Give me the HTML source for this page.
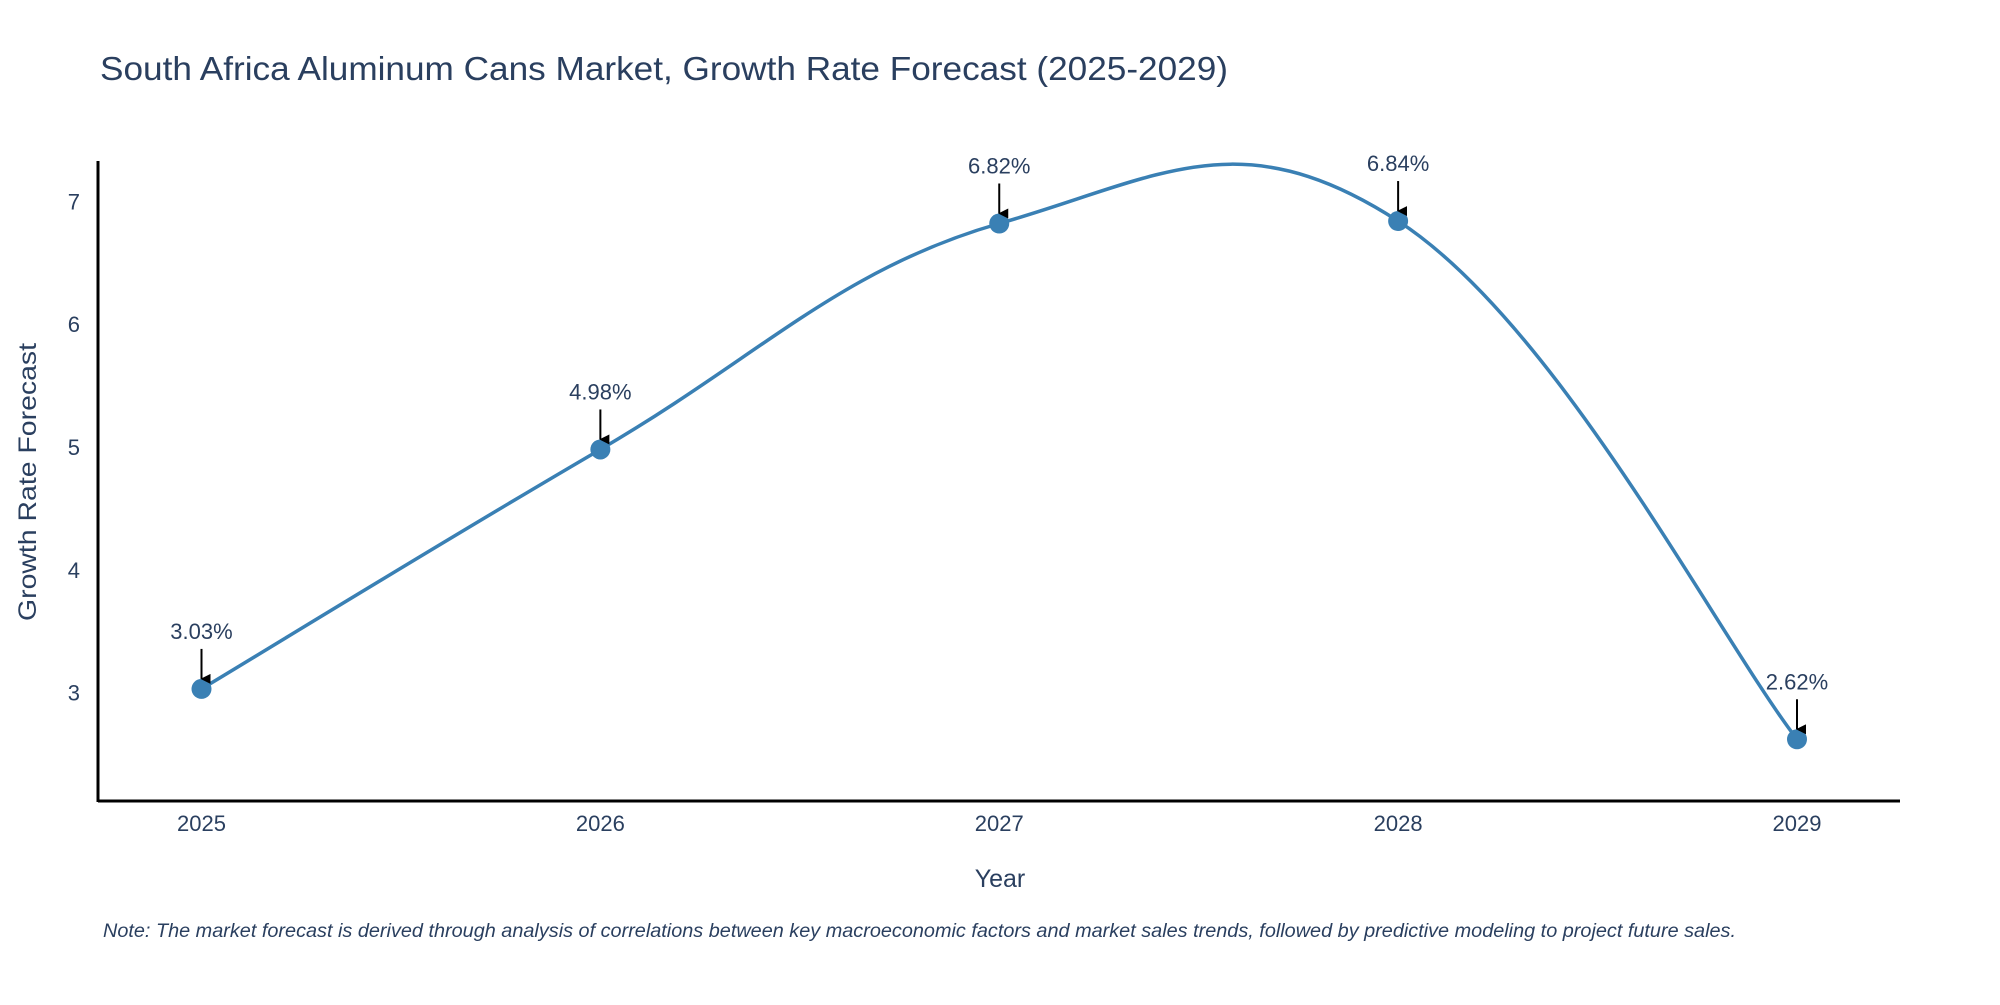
<!DOCTYPE html>
<html><head><meta charset="utf-8"><style>
body{margin:0;background:#fff}
svg text{font-family:"Liberation Sans",sans-serif}
</style></head><body>
<svg width="2000" height="1000" viewBox="0 0 2000 1000" xmlns="http://www.w3.org/2000/svg">
<defs><marker id="ah" viewBox="0 0 10 10" refX="5" refY="9" markerWidth="5" markerHeight="5" orient="auto-start-reverse"><path d="M0,0 L10,0 L5,10 z" fill="#000" transform="rotate(0)"/></marker></defs>
<text x="100" y="80" font-size="33" fill="#2a3f5f" textLength="1128" lengthAdjust="spacingAndGlyphs">South Africa Aluminum Cans Market, Growth Rate Forecast (2025-2029)</text>
<g id="axes"></g>
<g id="plot"></g>
<text x="1000" y="887" font-size="25" fill="#2a3f5f" text-anchor="middle">Year</text>
<text transform="translate(36,482) rotate(-90)" font-size="25" fill="#2a3f5f" text-anchor="middle" textLength="278" lengthAdjust="spacingAndGlyphs">Growth Rate Forecast</text>
<text x="103" y="937" font-size="19" font-style="italic" fill="#2a3f5f" textLength="1633" lengthAdjust="spacingAndGlyphs">Note: The market forecast is derived through analysis of correlations between key macroeconomic factors and market sales trends, followed by predictive modeling to project future sales.</text>
</svg>
<script>
const years = [2025, 2026, 2027, 2028, 2029];
const growth = [3.03, 4.98, 6.82, 6.84, 2.62];
const yTicks = [3, 4, 5, 6, 7];
const NS = "http://www.w3.org/2000/svg";
const xS = v => 201.5 + (v - 2025) * (1797 - 201.5) / 4;
const yS = v => 692.6 - (v - 3) * 122.8;
function mk(tag, attrs, parent){const e=document.createElementNS(NS,tag);for(const k in attrs)e.setAttribute(k,attrs[k]);parent.appendChild(e);return e;}
const axes=document.getElementById('axes'), plot=document.getElementById('plot');
const xl=mk('line',{x1:98,y1:801,x2:1900,y2:801,stroke:'#000','stroke-width':3},axes);


const yl=mk('line',{x1:98,y1:161,x2:98,y2:802,stroke:'#000','stroke-width':3},axes);


years.forEach(y=>{const t=mk('text',{x:xS(y),y:831,'font-size':22,fill:'#2a3f5f','text-anchor':'middle'},axes);t.textContent=y;

});
yTicks.forEach(v=>{const t=mk('text',{x:80,y:yS(v)+8,'font-size':22,fill:'#2a3f5f','text-anchor':'end'},axes);t.textContent=v;

});
const pts=years.map((y,i)=>[xS(y),yS(growth[i])]);
let d=`M${pts[0][0]},${pts[0][1]}`;
const k=0.2;
for(let i=0;i<pts.length-1;i++){
 const p0=pts[Math.max(0,i-1)],p1=pts[i],p2=pts[i+1],p3=pts[Math.min(pts.length-1,i+2)];
 const c1=[p1[0]+(p2[0]-p0[0])*k,p1[1]+(p2[1]-p0[1])*k];
 const c2=[p2[0]-(p3[0]-p1[0])*k,p2[1]-(p3[1]-p1[1])*k];
 d+=` C${c1[0]},${c1[1]} ${c2[0]},${c2[1]} ${p2[0]},${p2[1]}`;
}
const line=mk('path',{d:d,fill:'none',stroke:'#3a80b4','stroke-width':3.5},plot);


pts.forEach((p,i)=>{
 const c=mk('circle',{cx:p[0],cy:p[1],r:10,fill:'#3a80b4'},plot);
 
 
 const a=mk('line',{x1:p[0],y1:p[1]-40,x2:p[0],y2:p[1]-10,stroke:'#000','stroke-width':2,'marker-end':'url(#ah)'},plot);
 
 
 const t=mk('text',{x:p[0],y:p[1]-50,'font-size':22,fill:'#2a3f5f','text-anchor':'middle'},plot);
 t.textContent=growth[i].toFixed(2)+'%';
 
 
});
</script>
</body></html>
